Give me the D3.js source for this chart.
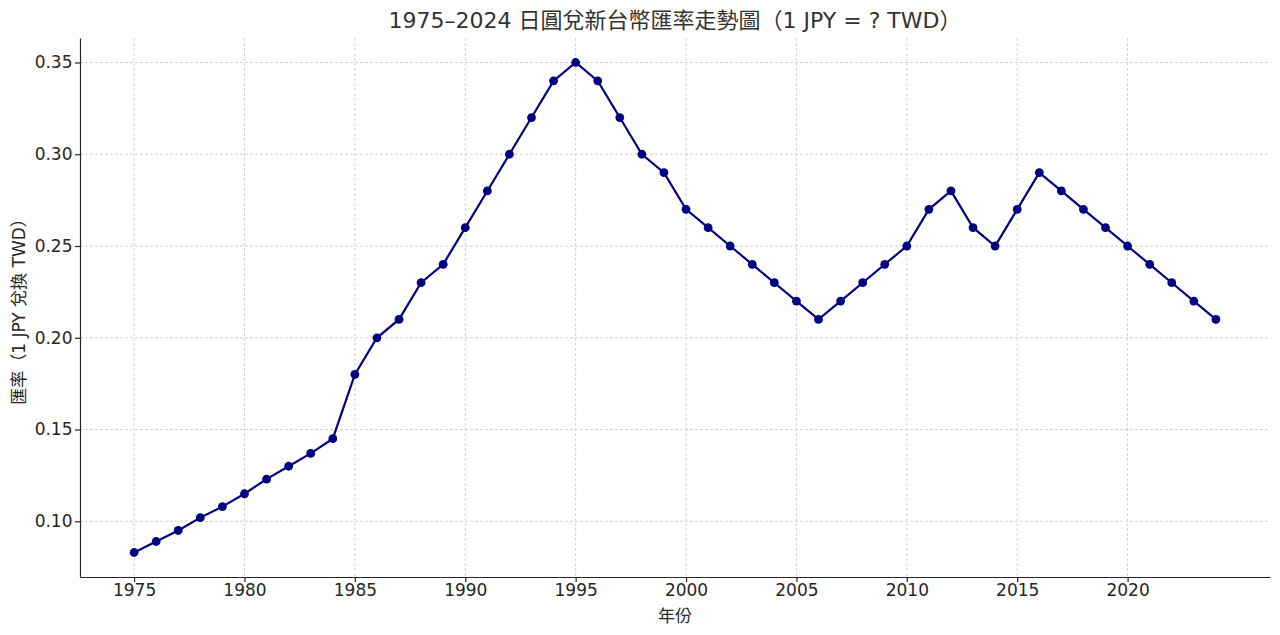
<!DOCTYPE html>
<html><head><meta charset="utf-8">
<script src="https://cdn.jsdelivr.net/npm/d3@7"></script>
<style>
body{margin:0;background:#fff;}
svg{display:block;font-family:"DejaVu Sans","Noto Sans CJK TC",sans-serif;}
</style></head>
<body><svg id="c" width="1280" height="635"></svg>
<script>
const years = [1975,1976,1977,1978,1979,1980,1981,1982,1983,1984,1985,1986,1987,1988,1989,1990,1991,1992,1993,1994,1995,1996,1997,1998,1999,2000,2001,2002,2003,2004,2005,2006,2007,2008,2009,2010,2011,2012,2013,2014,2015,2016,2017,2018,2019,2020,2021,2022,2023,2024];
const rates = [0.083,0.089,0.095,0.102,0.108,0.115,0.123,0.130,0.137,0.145,0.18,0.20,0.21,0.23,0.24,0.26,0.28,0.30,0.32,0.34,0.35,0.34,0.32,0.30,0.29,0.27,0.26,0.25,0.24,0.23,0.22,0.21,0.22,0.23,0.24,0.25,0.27,0.28,0.26,0.25,0.27,0.29,0.28,0.27,0.26,0.25,0.24,0.23,0.22,0.21];
const xTicks = [1975,1980,1985,1990,1995,2000,2005,2010,2015,2020];
const yTicks = [0.10,0.15,0.20,0.25,0.30,0.35];
const title = "1975–2024 日圓兌新台幣匯率走勢圖（1 JPY = ? TWD）";
const xLabel = "年份";
const yLabel = "匯率（1 JPY 兌換 TWD）";

const svg = d3.select("#c");
const L=80, R=1270, T=38, B=577;
const xr = d3.extent(years), yr = d3.extent(rates);
const xm = (xr[1]-xr[0])*0.05, ym = (yr[1]-yr[0])*0.05;
const x = d3.scaleLinear().domain([xr[0]-xm, xr[1]+xm]).range([L,R]);
const y = d3.scaleLinear().domain([yr[0]-ym, yr[1]+ym]).range([B,T]);

const grid = svg.append("g");
grid.selectAll(".vx").data(xTicks).join("line")
  .attr("x1",d=>x(d)).attr("x2",d=>x(d)).attr("y1",T).attr("y2",B)
  .attr("stroke","#c8c8c8").attr("stroke-width",0.8).attr("stroke-dasharray","3,2");
grid.selectAll(".hy").data(yTicks).join("line")
  .attr("y1",d=>y(d)).attr("y2",d=>y(d)).attr("x1",L).attr("x2",R)
  .attr("stroke","#c8c8c8").attr("stroke-width",0.8).attr("stroke-dasharray","3,2");

const xa = svg.append("g").attr("transform",`translate(0,${B})`)
  .call(d3.axisBottom(x).tickValues(xTicks).tickFormat(d3.format("d")).tickSizeInner(5).tickSizeOuter(0).tickPadding(1.5));
const ya = svg.append("g").attr("transform",`translate(${L},0)`)
  .call(d3.axisLeft(y).tickValues(yTicks).tickFormat(d3.format(".2f")).tickSizeInner(5).tickSizeOuter(0).tickPadding(2.5));
[xa,ya].forEach(a=>{
  a.select(".domain").attr("stroke","#262626").attr("stroke-width",1.2);
  a.selectAll(".tick line").attr("stroke","#262626").attr("stroke-width",1.2);
  a.selectAll(".tick text").attr("fill","#262626").style("font-size","17px").style("font-family","DejaVu Sans");
});

const line = d3.line().x((d,i)=>x(years[i])).y(d=>y(d));
svg.append("path").datum(rates).attr("d",line).attr("fill","none")
  .attr("stroke","#000080").attr("stroke-width",2.2);
svg.selectAll(".pt").data(rates).join("circle")
  .attr("cx",(d,i)=>x(years[i])).attr("cy",d=>y(d)).attr("r",4.4).attr("fill","#000080");

svg.append("text").attr("x",(L+R)/2).attr("y",28).attr("text-anchor","middle")
  .attr("fill","#333").style("font-size","22px").text(title);
svg.append("text").attr("x",(L+R)/2).attr("y",622).attr("text-anchor","middle")
  .attr("fill","#262626").style("font-size","17px").text(xLabel);
svg.append("text").attr("transform",`translate(25,${(T+B)/2}) rotate(-90)`).attr("text-anchor","middle")
  .attr("fill","#262626").style("font-size","17px").text(yLabel);
</script></body></html>
